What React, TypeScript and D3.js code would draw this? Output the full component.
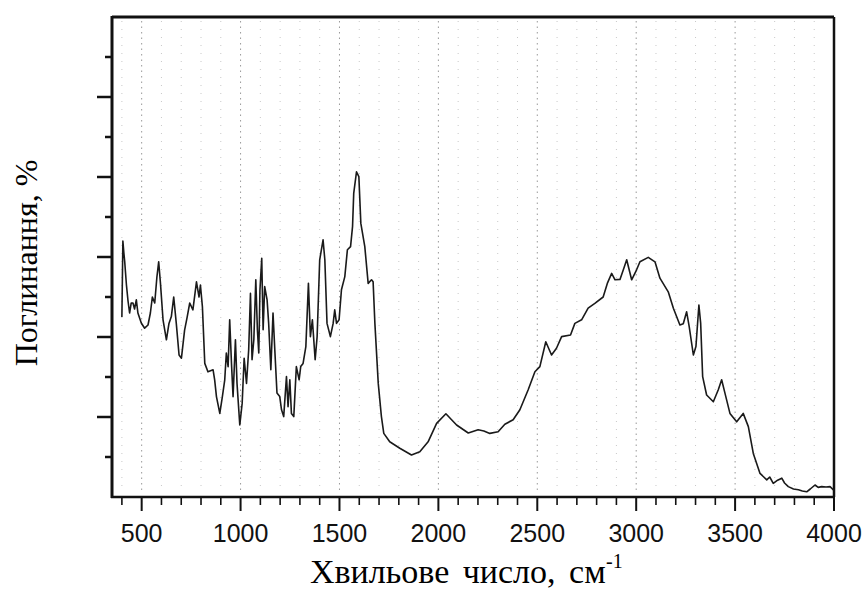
import * as d3 from 'd3';
import React from 'react';

// wavenumber (cm-1) and absorption
const wavenumber = [
  400, 405, 410, 414, 423, 431, 439, 447, 456, 464, 473, 481, 498, 515, 532, 544, 554, 566, 577, 586,
  595, 608, 625, 638, 650, 662, 675, 689, 701, 717, 729, 743, 759, 777, 790, 797, 807, 819, 835, 861,
  869, 878, 895, 908, 920, 928, 937, 945, 954, 962, 974, 982, 996, 1008, 1018, 1030, 1041, 1050, 1058, 1067,
  1077, 1085, 1092, 1098, 1107, 1114, 1122, 1134, 1142, 1153, 1164, 1173, 1184, 1198, 1207, 1218, 1232, 1240, 1249, 1257,
  1269, 1282, 1296, 1304, 1316, 1330, 1343, 1353, 1363, 1377, 1387, 1400, 1417, 1426, 1437, 1454, 1468, 1476, 1485, 1498,
  1510, 1527, 1540, 1556, 1566, 1572, 1586, 1598, 1608, 1628, 1645, 1662, 1670, 1679, 1696, 1712, 1724, 1754, 1805, 1864,
  1906, 1948, 1991, 2038, 2092, 2151, 2201, 2230, 2260, 2302, 2336, 2378, 2412, 2454, 2488, 2513, 2543, 2572, 2597, 2623,
  2668, 2690, 2724, 2757, 2791, 2833, 2854, 2876, 2893, 2918, 2935, 2952, 2977, 3002, 3019, 3061, 3095, 3120, 3162, 3188,
  3221, 3238, 3255, 3268, 3289, 3302, 3317, 3326, 3336, 3356, 3390, 3415, 3432, 3449, 3474, 3508, 3541, 3567, 3592, 3626,
  3645, 3660, 3675, 3693, 3715, 3736, 3750, 3769, 3795, 3820, 3840, 3862, 3880, 3904, 3920, 3938, 3960, 3980, 3997,
];
const absorption = [
  4.5, 6.4, 6.1, 5.9, 5.3, 4.9, 4.6, 4.85, 4.85, 4.7, 4.93, 4.6, 4.35, 4.22, 4.3, 4.6, 5.0, 4.85, 5.5, 5.88,
  5.34, 4.43, 3.93, 4.34, 4.51, 5.0, 4.34, 3.55, 3.47, 4.17, 4.47, 4.85, 4.68, 5.38, 5.0, 5.3, 4.76, 3.34, 3.13, 3.18,
  2.93, 2.51, 2.09, 2.51, 2.93, 3.6, 3.26, 4.43, 3.34, 2.51, 3.93, 2.84, 1.8, 2.34, 3.47, 2.84, 3.68, 5.09, 3.43, 3.93,
  5.43, 4.18, 3.6, 5.18, 5.97, 4.18, 5.26, 4.93, 4.34, 3.18, 4.6, 3.68, 2.6, 2.51, 2.18, 2.01, 3.01, 2.26, 2.93, 2.09,
  2.01, 3.26, 2.93, 3.26, 3.34, 3.76, 5.34, 4.01, 4.43, 3.43, 4.01, 5.93, 6.43, 5.93, 4.34, 4.01, 4.34, 4.68, 4.34, 4.43,
  5.18, 5.51, 6.18, 6.26, 6.76, 7.59, 8.13, 8.01, 6.84, 6.26, 5.34, 5.43, 5.38, 4.34, 2.84, 2.01, 1.59, 1.38, 1.22, 1.05,
  1.13, 1.38, 1.84, 2.08, 1.8, 1.6, 1.68, 1.65, 1.59, 1.63, 1.82, 1.93, 2.18, 2.68, 3.13, 3.26, 3.88, 3.55, 3.72, 4.01,
  4.05, 4.34, 4.43, 4.72, 4.84, 5.0, 5.34, 5.59, 5.43, 5.44, 5.68, 5.93, 5.43, 5.68, 5.88, 5.99, 5.88, 5.47, 5.13, 4.72,
  4.3, 4.33, 4.63, 4.26, 3.55, 3.76, 4.8, 4.34, 3.01, 2.55, 2.38, 2.68, 2.93, 2.59, 2.09, 1.88, 2.09, 1.76, 1.09, 0.59,
  0.5, 0.43, 0.5, 0.34, 0.42, 0.47, 0.35, 0.26, 0.2, 0.18, 0.15, 0.13, 0.2, 0.3, 0.24, 0.26, 0.25, 0.26, 0.18,
];

const xTickLabels = [500, 1000, 1500, 2000, 2500, 3000, 3500, 4000];
const xMinorTicks = d3.range(400, 4001, 100);
const yTicks = d3.range(1, 12, 1);

const W = 866;
const H = 590;
const left = 112;
const right = 834;
const top = 17;
const bottom = 497;

export default function App() {
  const x = d3.scaleLinear().domain([350, 4000]).range([left, right]);
  const y = d3.scaleLinear().domain([0, 12]).range([bottom, top]);

  const points: [number, number][] = wavenumber.map((w, i) => [w, absorption[i]]);
  const line = d3
    .line<[number, number]>()
    .x((d) => x(d[0]))
    .y((d) => y(d[1]));

  const serif = "'Liberation Serif', 'Times New Roman', serif";

  return (
    <svg
      width={W}
      height={H}
      style={{ position: 'absolute', left: 0, top: 0, background: '#fff' }}
    >
      {/* dotted grid */}
      {xMinorTicks.slice(0, -1).map((t) => (
        <line
          key={'g' + t}
          x1={x(t)}
          x2={x(t)}
          y1={top + 4}
          y2={bottom - 4}
          stroke={t % 500 === 0 ? '#999' : '#c8c8c8'}
          strokeWidth={1}
          strokeDasharray={t % 500 === 0 ? '1.5 4' : '1 7'}
        />
      ))}

      {/* frame */}
      <line x1={left} x2={right} y1={top} y2={top} stroke="#111" strokeWidth={3} />
      <line x1={right} x2={right} y1={top} y2={bottom} stroke="#111" strokeWidth={2.5} />
      <line x1={left - 1} x2={right + 1} y1={bottom} y2={bottom} stroke="#111" strokeWidth={2.5} />
      <line x1={left} x2={left} y1={top - 1} y2={bottom + 1} stroke="#111" strokeWidth={3} />

      {/* x ticks */}
      {xMinorTicks.map((t) => (
        <line
          key={'xt' + t}
          x1={x(t)}
          x2={x(t)}
          y1={bottom}
          y2={bottom + (t % 500 === 0 ? 14 : 8)}
          stroke="#111"
          strokeWidth={t % 500 === 0 ? 2 : 1.6}
        />
      ))}
      {xTickLabels.map((t) => (
        <text
          key={'xl' + t}
          x={x(t)}
          y={542}
          textAnchor="middle"
          fontFamily="'Liberation Sans', Arial, sans-serif"
          fontSize={25}
          fill="#111"
        >
          {t}
        </text>
      ))}

      {/* y ticks */}
      {yTicks.map((t) => (
        <line
          key={'yt' + t}
          x1={left}
          x2={left - (t % 2 === 0 ? 15 : 7)}
          y1={y(t)}
          y2={y(t)}
          stroke="#111"
          strokeWidth={2.5}
        />
      ))}

      {/* spectrum */}
      <path d={line(points) ?? ''} fill="none" stroke="#1a1a1a" strokeWidth={1.6} strokeLinejoin="round" />

      {/* axis titles */}
      <text x={310} y={583} fontFamily={serif} fontSize={34} fill="#000" wordSpacing={5}>
        Хвильове число, см
      </text>
      <text x={606} y={568} fontFamily={serif} fontSize={20} fill="#000">
        -1
      </text>
      <text
        transform="translate(37,263) rotate(-90)"
        textAnchor="middle"
        fontFamily={serif}
        fontSize={32}
        fill="#000"
      >
        Поглинання, %
      </text>
    </svg>
  );
}
